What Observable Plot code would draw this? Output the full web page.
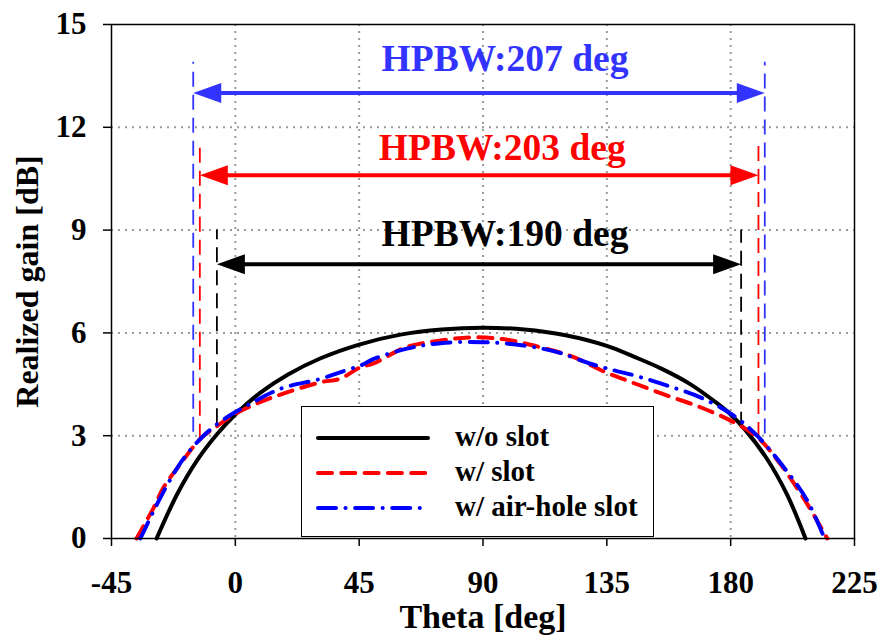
<!DOCTYPE html>
<html><head><meta charset="utf-8">
<script src="https://cdn.jsdelivr.net/npm/d3@7"></script>
<script src="https://cdn.jsdelivr.net/npm/@observablehq/plot@0.6"></script>
<style>
body{margin:0;background:#fff;}
#wrap{position:relative;width:882px;height:635px;font-family:"Liberation Serif","Times New Roman",serif;font-weight:bold;}
#legend{position:absolute;left:301px;top:406px;width:351px;height:129px;border:1.5px solid #000;background:#fff;}
.lrow{position:absolute;left:0;height:30px;width:100%;}
.lrow svg{position:absolute;left:12px;top:0;}
.lrow span{position:absolute;left:153px;top:-2px;font-size:29px;line-height:30px;color:#000;white-space:nowrap;}
</style></head>
<body><div id="wrap"><div id="legend"></div></div>
<script>
// ---- data ----
const seriesNames = ["w/o slot", "w/ slot", "w/ air-hole slot"];

const thetaWO = [-28.6, -21.1, -13.9, -6.6, 0, 9, 19, 31, 45, 60, 75, 90, 105, 120, 135, 145, 155, 165, 175, 180, 185, 193, 200.5, 207.2];
const gainWO  = [0, 1.30, 2.28, 3.05, 3.62, 4.25, 4.78, 5.26, 5.66, 5.95, 6.10, 6.15, 6.10, 5.93, 5.62, 5.30, 4.95, 4.52, 3.95, 3.62, 3.20, 2.35, 1.28, 0];

const thetaSlot = [-35.9, -29.6, -26, -19.9, -12.7, -5.4, 0, 9, 19, 31, 38, 45.5, 50, 62, 74.5, 86.6, 98.8, 110.9, 123, 134, 144, 157, 169, 180, 189.6, 198, 207.8, 215.1];
const gainSlot  = [0, 0.91, 1.50, 2.18, 2.91, 3.35, 3.64, 3.98, 4.27, 4.56, 4.66, 5.0, 5.10, 5.58, 5.78, 5.87, 5.80, 5.58, 5.29, 4.87, 4.56, 4.17, 3.83, 3.44, 2.96, 2.18, 1.01, 0];

const thetaAir = [-34.5, -28.4, -22.4, -17.5, -10.2, -3, 4.3, 16.4, 31, 38, 45.5, 50.3, 62.4, 74.5, 90, 104.8, 117, 129, 138, 145, 157, 169, 181, 189.6, 199.3, 207.8, 214.1];
const gainAir  = [0, 1.01, 1.89, 2.47, 3.10, 3.54, 3.88, 4.37, 4.66, 4.85, 5.05, 5.24, 5.54, 5.70, 5.73, 5.63, 5.44, 5.10, 4.90, 4.76, 4.46, 4.12, 3.59, 3.0, 2.08, 1.11, 0];

const hpbwLabels = ["HPBW:207 deg", "HPBW:203 deg", "HPBW:190 deg"];
const hpbwLeft = [-15.3, -12.9, -6.7];
const hpbwRight = [192.4, 190.1, 183.8];
const hpbwArrowGain = [13.0, 10.6, 8.0];
const hpbwMarkTop = [13.9, 11.5, 9.0];
const hpbwLeftBottom = [3.1, 2.9, 3.35];
const hpbwRightBottom = [3.05, 2.95, 3.25];
const hpbwTextTheta = [98, 97, 98];
const hpbwTextGain = [14.0, 11.4, 8.9];

const xTicks = [-45, 0, 45, 90, 135, 180, 225];
const yTicks = [0, 3, 6, 9, 12, 15];
const xGrid = [0, 45, 90, 135, 180];
const yGrid = [3, 6, 9, 12];
const xLabel = "Theta [deg]";
const yLabel = "Realized gain [dB]";

// ---- styles ----
const lineStyles = [
  {stroke: "#000000", dash: null},
  {stroke: "#ff0000", dash: "14,9.3"},
  {stroke: "#0000ff", dash: "18,9.5,0.1,9.5"}
];
const hpbwColors = ["#3333ff", "#ff0000", "#000000"];

const seriesData = [[thetaWO, gainWO], [thetaSlot, gainSlot], [thetaAir, gainAir]]
  .map(([t, g], k) => t.map((v, i) => ({theta: v, gain: g[i], k})));

const hp = hpbwLabels.map((label, i) => ({
  label, left: hpbwLeft[i], right: hpbwRight[i], y: hpbwArrowGain[i], top: hpbwMarkTop[i],
  lb: hpbwLeftBottom[i], rb: hpbwRightBottom[i], tx: hpbwTextTheta[i], ty: hpbwTextGain[i], color: hpbwColors[i]
}));

const fontFamily = "'Liberation Serif','Times New Roman',serif";

const chart = Plot.plot({
  width: 882, height: 635,
  marginLeft: 111, marginRight: 28, marginTop: 24, marginBottom: 97,
  x: {domain: [-45, 225]},
  y: {domain: [0, 15]},
  color: {type: "identity"},
  style: {fontFamily, fontWeight: "bold", background: "#fff", color: "#000", overflow: "visible"},
  marks: [
    Plot.gridX(xGrid, {stroke: "#9a9a9a", strokeOpacity: 1, strokeWidth: 2, strokeDasharray: "2,5"}),
    Plot.gridY(yGrid, {stroke: "#9a9a9a", strokeOpacity: 1, strokeWidth: 2, strokeDasharray: "2,5"}),
    Plot.axisX(xTicks, {tickSize: 8, tickPadding: 24, fontSize: 31, fontWeight: "bold", tickFormat: d => String(d), label: null, stroke: "#000", strokeWidth: 1.5}),
    Plot.axisY(yTicks, {tickSize: 8, tickPadding: 17, fontSize: 31, fontWeight: "bold", tickFormat: d => String(d), label: null, stroke: "#000", strokeWidth: 1.5}),
    // HPBW markers
    Plot.ruleX(hp, {x: "left", y1: "lb", y2: "top", stroke: "color", strokeWidth: 1.8, strokeDasharray: "15,8"}),
    Plot.ruleX(hp, {x: "right", y1: "rb", y2: "top", stroke: "color", strokeWidth: 1.8, strokeDasharray: "15,8"}),
    Plot.arrow(hp, {x1: "left", x2: "right", y1: "y", y2: "y", stroke: "color", strokeWidth: 4, headLength: 0, inset: 18}),
    Plot.vector(hp, {x: "left", y: "y", rotate: 270, length: 28, r: 10, shape: "spike", anchor: "end", fill: "color", stroke: "none"}),
    Plot.vector(hp, {x: "right", y: "y", rotate: 90, length: 28, r: 10, shape: "spike", anchor: "end", fill: "color", stroke: "none"}),
    Plot.text(hp, {x: "tx", y: "ty", text: "label", fill: "color", fontSize: 37.5, fontWeight: "bold", lineAnchor: "middle"}),
    // curves
    ...seriesData.map((d, k) => Plot.line(d, {x: "theta", y: "gain", curve: "catmull-rom", stroke: lineStyles[k].stroke, strokeWidth: 4, strokeDasharray: lineStyles[k].dash, strokeLinecap: "round"})),
    Plot.frame({stroke: "#000", strokeWidth: 1.5}),
    Plot.text([xLabel], {frameAnchor: "bottom", dy: 79, fontSize: 34, fontWeight: "bold", lineAnchor: "middle", textAnchor: "middle"}),
    Plot.text([yLabel], {frameAnchor: "left", dx: -84, rotate: -90, fontSize: 32, fontWeight: "bold", lineAnchor: "middle", textAnchor: "middle"})
  ]
});
const wrap = document.getElementById("wrap");
wrap.insertBefore(chart, wrap.firstChild);

// legend
const legend = document.getElementById("legend");
seriesNames.forEach((name, k) => {
  const row = document.createElement("div");
  row.className = "lrow";
  row.style.top = (16 + k * 35) + "px";
  const s = lineStyles[k];
  row.innerHTML = `<svg width="120" height="30"><line x1="4" x2="114" y1="15" y2="15" stroke="${s.stroke}" stroke-width="4" stroke-linecap="round" ${s.dash ? `stroke-dasharray="${s.dash}"` : ""}/></svg><span>${name}</span>`;
  legend.appendChild(row);
});
</script>
</body></html>
